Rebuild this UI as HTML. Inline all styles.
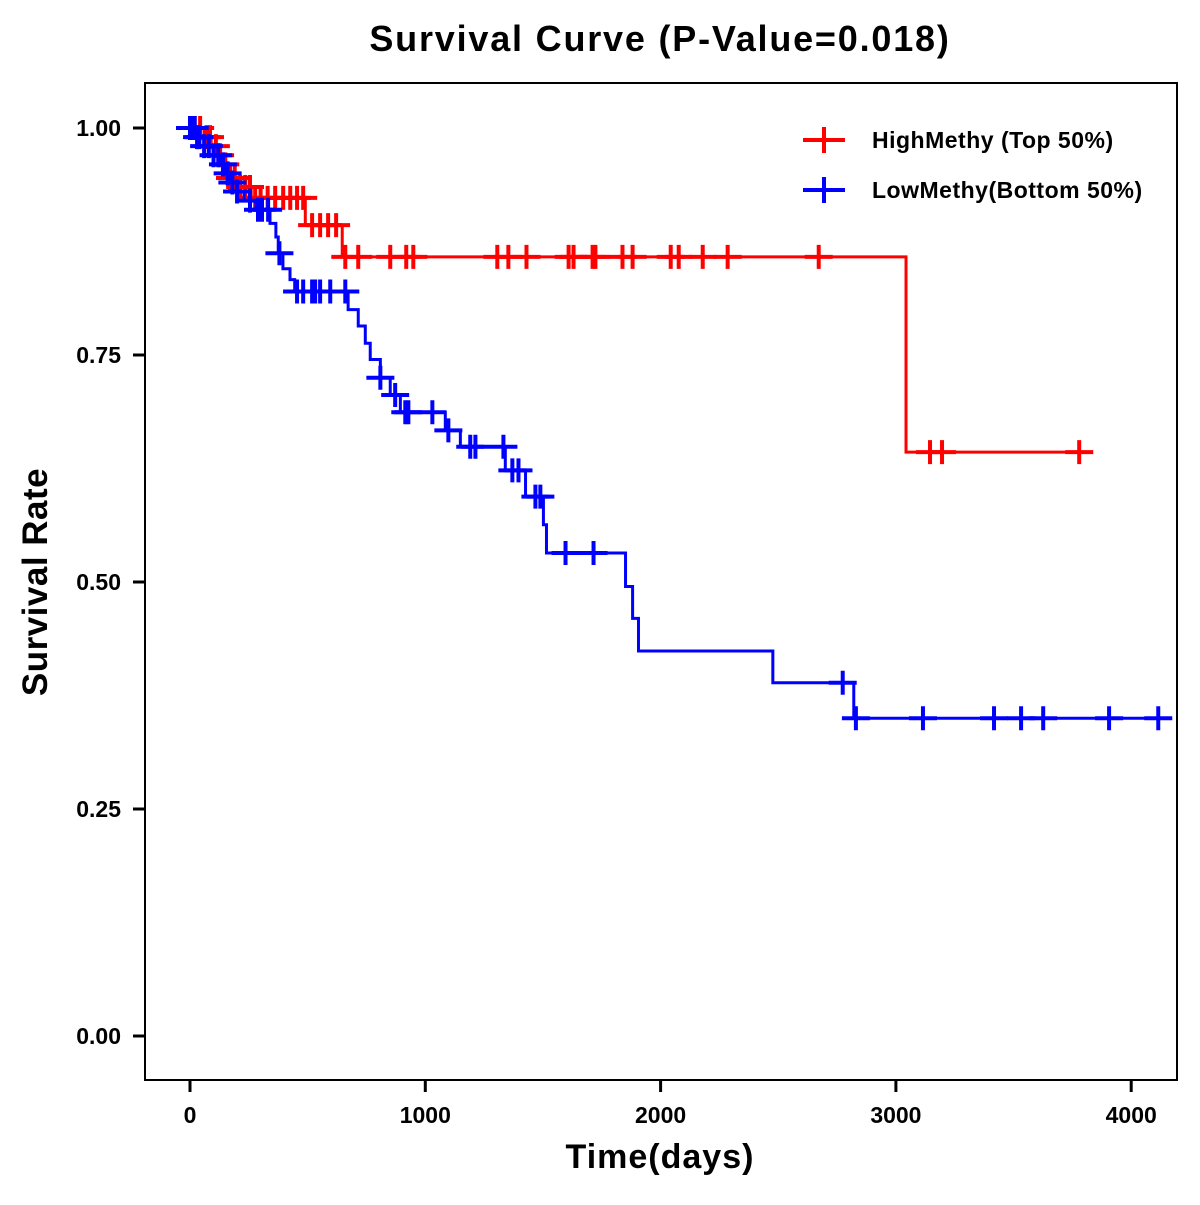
<!DOCTYPE html>
<html><head><meta charset="utf-8"><style>
html,body{margin:0;padding:0;background:#fff}
svg text{font-family:"Liberation Sans",Arial,sans-serif;font-weight:bold}
</style></head><body>
<svg id="chart" width="1200" height="1200" viewBox="0 0 1200 1200" xmlns="http://www.w3.org/2000/svg">
<rect x="0" y="0" width="1200" height="1200" fill="#fff"/>
<text x="660" y="51" font-size="36" letter-spacing="1.8" text-anchor="middle">Survival Curve (P-Value=0.018)</text>
<rect x="145" y="83" width="1032" height="997" fill="none" stroke="#000" stroke-width="2"/>
<g id="axes"></g>
<g id="series"></g>
<text x="660" y="1168" font-size="34" letter-spacing="1" text-anchor="middle">Time(days)</text>
<text transform="translate(47,582) rotate(-90)" font-size="35" letter-spacing="0.5" text-anchor="middle">Survival Rate</text>
<g>
 <g>
  <line x1="803" y1="140" x2="845" y2="140" stroke="#f00" stroke-width="4"/>
  <line x1="824" y1="127" x2="824" y2="153" stroke="#f00" stroke-width="4"/>
  <text x="872" y="148" font-size="23" letter-spacing="0.5">HighMethy (Top 50%)</text>
 </g>
 <g>
  <line x1="803" y1="190" x2="845" y2="190" stroke="#00f" stroke-width="4"/>
  <line x1="824" y1="177" x2="824" y2="203" stroke="#00f" stroke-width="4"/>
  <text x="872" y="198" font-size="23" letter-spacing="0.5">LowMethy(Bottom 50%)</text>
 </g>
</g>
</svg>
<script>
const xTicks = [0, 1000, 2000, 3000, 4000];
const yTicks = [0, 0.25, 0.5, 0.75, 1.0];
const yTickLabels = ["0.00", "0.25", "0.50", "0.75", "1.00"];
const highTimes = [0, 60, 90, 120, 150, 170, 200, 260, 490, 647, 3043];
const highSurv = [1.0, 0.99, 0.98, 0.97, 0.96, 0.945, 0.935, 0.923, 0.893, 0.858, 0.643];
const highEnd = 3838;
const highCensor = [20, 43, 70, 85, 110, 128, 150, 170, 190, 213, 235, 255, 277, 300, 330, 362, 396, 426, 455, 481, 519, 553, 587, 621, 660, 715, 851, 919, 949, 1306, 1353, 1430, 1609, 1630, 1711, 1723, 1838, 1881, 2043, 2077, 2179, 2285, 2672, 3145, 3196, 3779];
const lowTimes = [0, 25, 60, 100, 130, 150, 170, 200, 230, 280, 340, 365, 375, 395, 425, 445, 672, 715, 745, 766, 809, 851, 894, 1085, 1149, 1340, 1426, 1502, 1515, 1851, 1881, 1906, 2477, 2821];
const lowSurv = [1.0, 0.99, 0.98, 0.97, 0.96, 0.95, 0.94, 0.93, 0.92, 0.91, 0.895, 0.88, 0.862, 0.845, 0.833, 0.82, 0.80, 0.782, 0.763, 0.745, 0.725, 0.706, 0.687, 0.667, 0.649, 0.623, 0.594, 0.563, 0.532, 0.495, 0.46, 0.424, 0.389, 0.35];
const lowEnd = 4170;
const lowCensor = [0, 10, 20, 30, 40, 60, 80, 100, 120, 140, 160, 180, 200, 255, 289, 306, 332, 380, 455, 481, 519, 532, 553, 596, 660, 809, 872, 915, 928, 1030, 1098, 1191, 1213, 1332, 1370, 1396, 1468, 1489, 1596, 1715, 2774, 2830, 3115, 3417, 3532, 3626, 3906, 4115];

const NS = "http://www.w3.org/2000/svg";
const xs = d => 190 + d * 0.2353;
const ys = s => 1036 - s * 908;
function mk(tag, attrs, parent) {
  const e = document.createElementNS(NS, tag);
  for (const k in attrs) e.setAttribute(k, attrs[k]);
  parent.appendChild(e);
  return e;
}
const axes = document.getElementById('axes');
xTicks.forEach(t => {
  const l = mk('line', {x1: xs(t), x2: xs(t), y1: 1080, y2: 1092, stroke: '#000', 'stroke-width': 3}, axes);
  
  
  const tx = mk('text', {x: xs(t), y: 1123, 'font-size': 23, 'text-anchor': 'middle'}, axes);
  tx.textContent = t;
  
  
});
yTicks.forEach((t, i) => {
  const l = mk('line', {x1: 133, x2: 145, y1: ys(t), y2: ys(t), stroke: '#000', 'stroke-width': 3}, axes);
  
  
  const tx = mk('text', {x: 121, y: ys(t) + 8, 'font-size': 23, 'text-anchor': 'end'}, axes);
  tx.textContent = yTickLabels[i];
  
  
});
const series = document.getElementById('series');
function survAt(times, surv, t) {
  let s = surv[0];
  for (let i = 0; i < times.length; i++) if (times[i] <= t) s = surv[i];
  return s;
}
function drawSeries(times, surv, end, censor, color, name) {
  const g = mk('g', {}, series);
  
  
  let d = 'M' + xs(times[0]) + ' ' + ys(surv[0]);
  for (let i = 1; i < times.length; i++) {
    d += ' H' + xs(times[i]) + ' V' + ys(surv[i]);
  }
  d += ' H' + xs(end);
  const p = mk('path', {d: d, fill: 'none', stroke: color, 'stroke-width': 3}, g);
  
  
  censor.forEach(t => {
    const cx = xs(t), cy = ys(survAt(times, surv, t));
    const c = mk('path', {d: 'M' + (cx - 14) + ' ' + cy + ' H' + (cx + 14) + ' M' + cx + ' ' + (cy - 12) + ' V' + (cy + 12), stroke: color, 'stroke-width': 4, fill: 'none'}, g);
    
    
  });
}
drawSeries(highTimes, highSurv, highEnd, highCensor, '#f00', 'high-methy-curve');
drawSeries(lowTimes, lowSurv, lowEnd, lowCensor, '#00f', 'low-methy-curve');
</script>
</body></html>
